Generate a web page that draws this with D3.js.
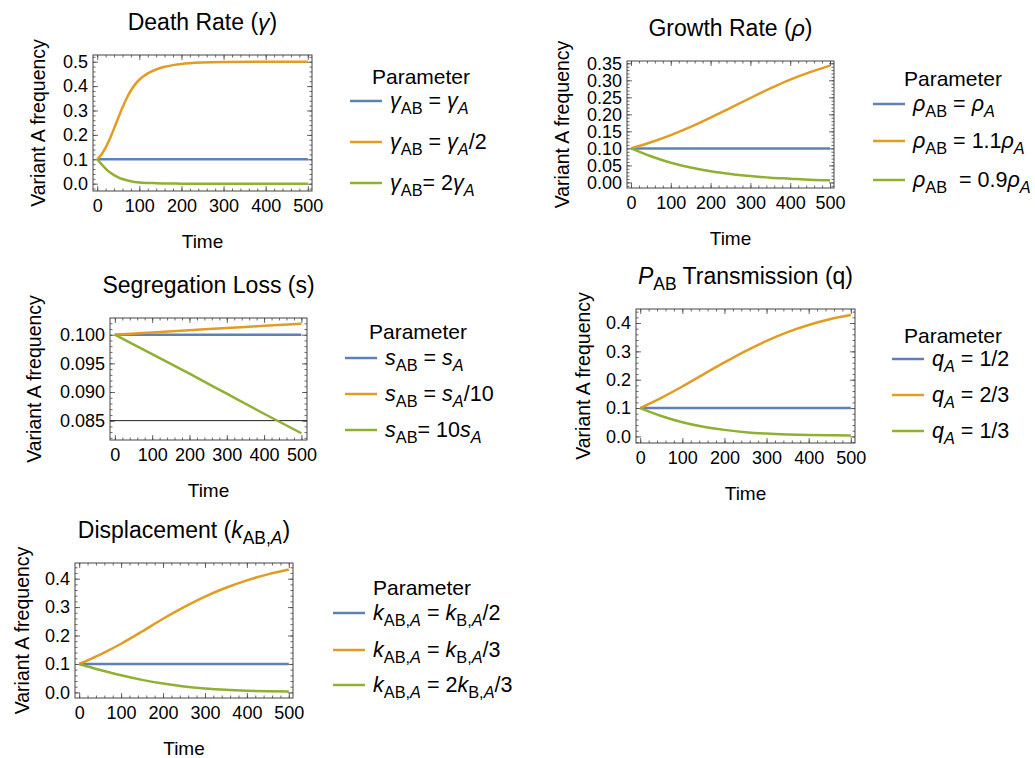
<!DOCTYPE html>
<html>
<head>
<meta charset="utf-8">
<script src="https://cdn.jsdelivr.net/npm/d3@7"></script>
<style>
  body { margin: 0; background: #fff; }
  svg text { font-family: "Liberation Sans", Arial, sans-serif; fill: #000; white-space: pre; }
</style>
</head>
<body>
<script>
// Series colours (Mathematica default palette)
const colors = ["#5e81b5", "#e19c24", "#8fb032"];

// Shared time values
const edgeTime = [0, 500];
const coarseTime = [0, 50, 100, 150, 200, 250, 300, 350, 400, 450, 500];
const timeTicks = [0, 100, 200, 300, 400, 500];

// Death rate panel
const deathTime = [0, 10, 20, 30, 40, 50, 60, 70, 80, 90, 100, 120, 140, 160, 180, 200, 250, 300, 400, 500];
const deathSame = [0.1, 0.1];
const deathHalf = [0.1, 0.12, 0.148, 0.184, 0.226, 0.27, 0.312, 0.35, 0.382, 0.407, 0.426, 0.452, 0.468, 0.479, 0.486, 0.491, 0.497, 0.499, 0.5, 0.5];
const deathDouble = [0.1, 0.08, 0.062, 0.047, 0.035, 0.026, 0.019, 0.014, 0.01, 0.007, 0.005, 0.003, 0.002, 0.001, 0.0005, 0, 0, 0, 0, 0];
const deathYTicks = [0, 0.1, 0.2, 0.3, 0.4, 0.5];

// Growth rate panel
const growthSame = [0.1, 0.1];
const growthUp = [0.1, 0.118, 0.139, 0.163, 0.19, 0.219, 0.248, 0.276, 0.302, 0.324, 0.343];
const growthDown = [0.1, 0.077, 0.058, 0.044, 0.033, 0.025, 0.019, 0.014, 0.011, 0.008, 0.0065];
const growthYTicks = [0, 0.05, 0.1, 0.15, 0.2, 0.25, 0.3, 0.35];

// Segregation loss panel
const segTime = [0, 100, 200, 300, 400, 500];
const segSame = [0.1, 0.1];
const segTenth = [0.1, 0.10039, 0.10078, 0.10116, 0.10155, 0.10193];
const segTen = [0.1, 0.0966, 0.0932, 0.0897, 0.0862, 0.0828];
const segYTicks = [0.085, 0.09, 0.095, 0.1];

// Transmission panel
const transHalf = [0.1, 0.1];
const transTwoThirds = [0.1, 0.136, 0.176, 0.219, 0.261, 0.301, 0.337, 0.368, 0.393, 0.413, 0.428];
const transOneThird = [0.1, 0.072, 0.05, 0.034, 0.023, 0.015, 0.01, 0.007, 0.005, 0.004, 0.003];

// Displacement panel
const dispHalf = [0.1, 0.1];
const dispThird = [0.1, 0.133, 0.171, 0.214, 0.259, 0.3, 0.337, 0.368, 0.394, 0.415, 0.432];
const dispTwoThirds = [0.1, 0.079, 0.06, 0.044, 0.031, 0.021, 0.014, 0.009, 0.006, 0.004, 0.003];
const fracYTicks = [0, 0.1, 0.2, 0.3, 0.4];

// Rich text pieces: [text, style] with i = italic, s = subscript
const G = "γ", R = "ρ";
const panels = [
  {
    title: [["Death Rate (", ""], [G, "i"], [")", ""]],
    frame: [93, 55, 312, 191], xDom: [-10, 510], yDom: [-0.03, 0.5275],
    yTicks: deathYTicks, yFmt: ".1f", yMinor: 0.02,
    series: [[edgeTime, deathSame], [deathTime, deathHalf], [deathTime, deathDouble]],
    labels: [
      [[G, "i"], ["AB", "s"], [" = ", ""], [G, "i"], ["A", "si"]],
      [[G, "i"], ["AB", "s"], [" = ", ""], [G, "i"], ["A", "si"], ["/2", ""]],
      [[G, "i"], ["AB", "s"], ["= 2", ""], [G, "i"], ["A", "si"]]
    ],
    legend: { cx: 421, ty: 84, x: 350, ys: [101, 142, 183] }, ylabX: 45
  },
  {
    title: [["Growth Rate (", ""], [R, "i"], [")", ""]],
    frame: [627, 61, 834, 188], xDom: [-10, 510], yDom: [-0.0164, 0.3567],
    yTicks: growthYTicks, yFmt: ".2f", yMinor: 0.01,
    series: [[edgeTime, growthSame], [coarseTime, growthUp], [coarseTime, growthDown]],
    labels: [
      [[R, "i"], ["AB", "s"], [" = ", ""], [R, "i"], ["A", "si"]],
      [[R, "i"], ["AB", "s"], [" = 1.1", ""], [R, "i"], ["A", "si"]],
      [[R, "i"], ["AB", "s"], ["  = 0.9", ""], [R, "i"], ["A", "si"]]
    ],
    legend: { cx: 953, ty: 86, x: 873, ys: [104, 141, 180] }, ylabX: 569
  },
  {
    title: [["Segregation Loss (s)", ""]],
    frame: [110, 318, 307, 440], xDom: [-13, 515], yDom: [0.08162, 0.10292],
    yTicks: segYTicks, yFmt: ".3f", yMinor: 0.001, axisAt: 0.085,
    series: [[edgeTime, segSame], [segTime, segTenth], [segTime, segTen]],
    labels: [
      [["s", "i"], ["AB", "s"], [" = ", ""], ["s", "i"], ["A", "si"]],
      [["s", "i"], ["AB", "s"], [" = ", ""], ["s", "i"], ["A", "si"], ["/10", ""]],
      [["s", "i"], ["AB", "s"], ["= 10", ""], ["s", "i"], ["A", "si"]]
    ],
    legend: { cx: 418, ty: 339, x: 345, ys: [358, 394, 430] }, ylabX: 41
  },
  {
    title: [["P", "i"], ["AB", "s"], [" Transmission (q)", ""]],
    frame: [636, 309, 855, 443], xDom: [-10, 510], yDom: [-0.0233, 0.4494],
    yTicks: fracYTicks, yFmt: ".1f", yMinor: 0.02,
    series: [[edgeTime, transHalf], [coarseTime, transTwoThirds], [coarseTime, transOneThird]],
    labels: [
      [["q", "i"], ["A", "si"], [" = 1/2", ""]],
      [["q", "i"], ["A", "si"], [" = 2/3", ""]],
      [["q", "i"], ["A", "si"], [" = 1/3", ""]]
    ],
    legend: { cx: 953, ty: 343, x: 892, ys: [359, 395, 431] }, ylabX: 590
  },
  {
    title: [["Displacement (", ""], ["k", "i"], ["AB,", "s"], ["A", "si"], [")", ""]],
    frame: [75, 563, 293, 698], xDom: [-10, 510], yDom: [-0.0197, 0.455],
    yTicks: fracYTicks, yFmt: ".1f", yMinor: 0.02,
    series: [[edgeTime, dispHalf], [coarseTime, dispThird], [coarseTime, dispTwoThirds]],
    labels: [
      [["k", "i"], ["AB,", "s"], ["A", "si"], [" = ", ""], ["k", "i"], ["B,", "s"], ["A", "si"], ["/2", ""]],
      [["k", "i"], ["AB,", "s"], ["A", "si"], [" = ", ""], ["k", "i"], ["B,", "s"], ["A", "si"], ["/3", ""]],
      [["k", "i"], ["AB,", "s"], ["A", "si"], [" = 2", ""], ["k", "i"], ["B,", "s"], ["A", "si"], ["/3", ""]]
    ],
    legend: { cx: 422, ty: 595, x: 333, ys: [613, 650, 685] }, ylabX: 29
  }
];

const frameColor = "#444";

const svg = d3.select("body").append("svg")
  .attr("width", 1035)
  .attr("height", 758);

// write a list of [text, style] pieces as tspans
function rich(textSel, pieces, size) {
  let shift = 0;
  pieces.forEach(function ([txt, st]) {
    const sub = st.includes("s");
    const target = sub ? size * 0.28 : 0;
    textSel.append("tspan")
      .attr("dy", target - shift)
      .style("font-size", (sub ? size * 0.76 : size) + "px")
      .style("font-style", st.includes("i") ? "italic" : "normal")
      .text(txt);
    shift = target;
  });
}

panels.forEach(function (p) {
  const [x0, y0, x1, y1] = p.frame;
  const x = d3.scaleLinear().domain(p.xDom).range([x0, x1]);
  const y = d3.scaleLinear().domain(p.yDom).range([y1, y0]);
  const g = svg.append("g");

  const xMinor = d3.range(-20, 521, 20).filter(v => v >= p.xDom[0] && v <= p.xDom[1]);
  const yMinor = d3.range(Math.ceil(p.yDom[0] / p.yMinor), Math.floor(p.yDom[1] / p.yMinor) + 1)
    .map(i => +(i * p.yMinor).toFixed(5));

  // frame ticks on all four sides, pointing inward
  const sides = [
    [d3.axisBottom, x, `translate(0,${y1})`, timeTicks, xMinor, true, d3.format("d")],
    [d3.axisTop, x, `translate(0,${y0})`, timeTicks, xMinor, false],
    [d3.axisLeft, y, `translate(${x0},0)`, p.yTicks, yMinor, true, d3.format(p.yFmt)],
    [d3.axisRight, y, `translate(${x1},0)`, p.yTicks, yMinor, false]
  ];
  sides.forEach(function ([axisFn, sc, tr, major, minor, labelled, fmt]) {
    const minorG = g.append("g").attr("transform", tr)
      .call(axisFn(sc).tickValues(minor).tickSize(-2.5).tickFormat(""));
    const majorG = g.append("g").attr("transform", tr)
      .call(axisFn(sc).tickValues(major).tickSize(-5).tickPadding(axisFn === d3.axisBottom ? 8 : 5)
        .tickFormat(labelled ? fmt : ""));
    [minorG, majorG].forEach(function (a) {
      a.select(".domain").remove();
      a.selectAll("line").attr("stroke", frameColor).attr("stroke-width", 0.8);
    });
    majorG.selectAll("text").style("font-size", "18px").attr("fill", "#000");
  });

  g.append("rect")
    .attr("x", x0).attr("y", y0)
    .attr("width", x1 - x0).attr("height", y1 - y0)
    .attr("fill", "none").attr("stroke", frameColor).attr("stroke-width", 1);

  if (p.axisAt !== undefined) {
    g.append("line")
      .attr("x1", x0).attr("x2", x1)
      .attr("y1", y(p.axisAt)).attr("y2", y(p.axisAt))
      .attr("stroke", "#222").attr("stroke-width", 1);
  }

  const clipId = "clip" + x0 + "_" + y0;
  g.append("clipPath").attr("id", clipId)
    .append("rect").attr("x", x0).attr("y", y0).attr("width", x1 - x0).attr("height", y1 - y0);

  const line = d3.line()
    .x(d => x(d[0]))
    .y(d => y(d[1]))
    .curve(d3.curveMonotoneX);

  p.series.forEach(function ([ts, vs], i) {
    g.append("path")
      .datum(ts.map((t, k) => [t, vs[k]]))
      .attr("clip-path", `url(#${clipId})`)
      .attr("fill", "none")
      .attr("stroke", colors[i])
      .attr("stroke-width", 2.5)
      .attr("d", line);
  });

  // title
  const title = g.append("text")
    .attr("x", (x0 + x1) / 2)
    .attr("y", y0 - 25)
    .attr("text-anchor", "middle");
  rich(title, p.title, 23);

  // axis labels
  g.append("text")
    .attr("x", (x0 + x1) / 2)
    .attr("y", y1 + 57)
    .attr("text-anchor", "middle")
    .style("font-size", "19px")
    .text("Time");

  g.append("text")
    .attr("transform", `translate(${p.ylabX},${(y0 + y1) / 2}) rotate(-90)`)
    .attr("text-anchor", "middle")
    .style("font-size", "19.5px")
    .text("Variant A frequency");

  // legend
  const lg = p.legend;
  g.append("text")
    .attr("x", lg.cx)
    .attr("y", lg.ty)
    .attr("text-anchor", "middle")
    .style("font-size", "21px")
    .text("Parameter");

  lg.ys.forEach(function (ly, i) {
    g.append("line")
      .attr("x1", lg.x).attr("x2", lg.x + 32)
      .attr("y1", ly).attr("y2", ly)
      .attr("stroke", colors[i])
      .attr("stroke-width", 2.5);
    const t = g.append("text")
      .attr("x", lg.x + 40)
      .attr("y", ly + 7);
    rich(t, p.labels[i], 21.5);
  });
});
</script>
</body>
</html>
